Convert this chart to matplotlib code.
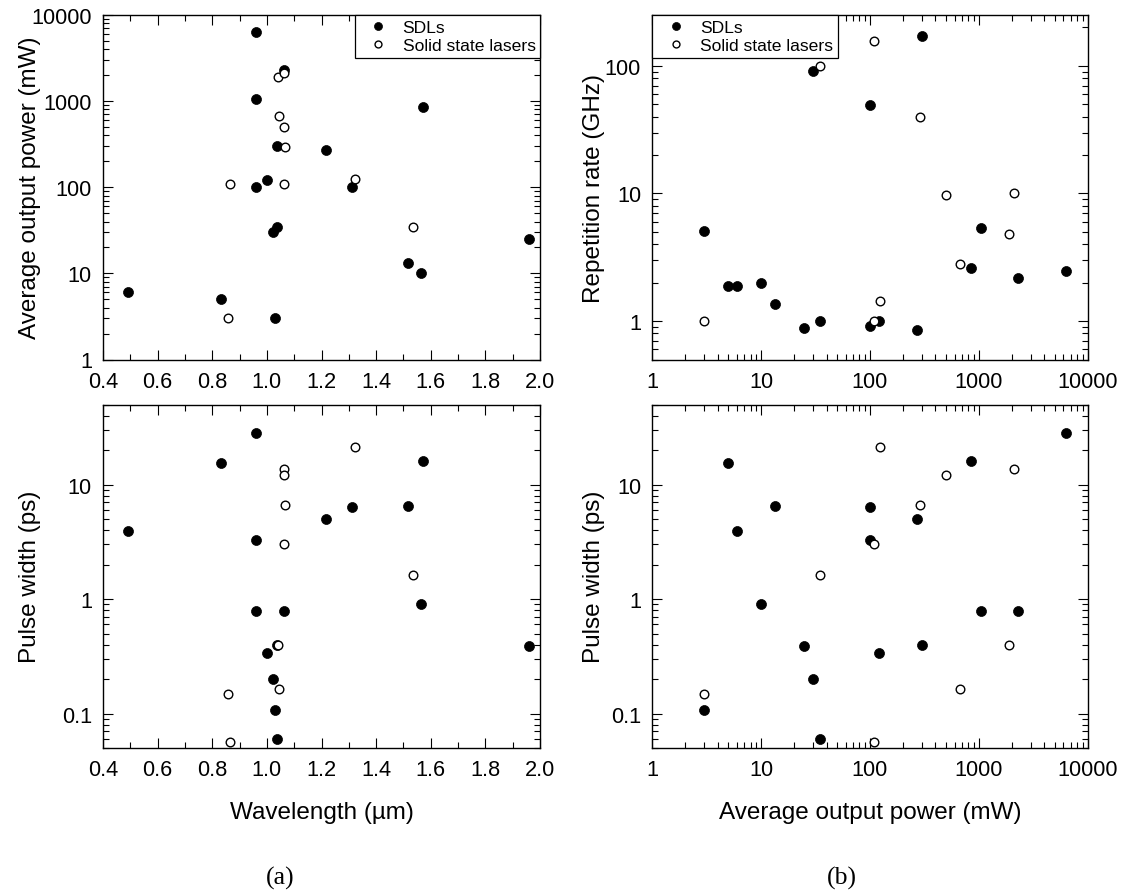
import matplotlib
matplotlib.use("Agg")
import matplotlib.pyplot as plt
from matplotlib.ticker import FixedLocator, FixedFormatter, NullFormatter, LogLocator, MultipleLocator

# ---------------- data ----------------
sdl_wavelength = [0.49, 0.833, 0.96, 0.96, 0.96, 1.00, 1.021, 1.030, 1.037, 1.036,
                  1.061, 1.217, 1.313, 1.518, 1.566, 1.57, 1.959]
sdl_power = [6, 5, 6300, 1050, 100, 120, 30, 3, 35, 300,
             2300, 270, 100, 13.3, 10, 850, 25]
sdl_reprate = [1.89, 1.89, 2.49, 5.4, 49, 1.0, 91, 5.1, 1.0, 170,
               2.18, 0.85, 0.91, 1.35, 2.0, 2.6, 0.89]
sdl_pulse = [3.9, 15.5, 28, 0.79, 3.3, 0.336, 0.2, 0.108, 0.06, 0.40,
             0.79, 5.0, 6.4, 6.5, 0.9, 16, 0.389]

ss_wavelength = [0.856, 0.865, 1.041, 1.064, 1.044, 1.063, 1.065, 1.063, 1.321, 1.535]
ss_power = [3, 110, 1900, 2100, 675, 500, 290, 110, 125, 35]
ss_reprate = [1.0, 1.0, 4.8, 10, 2.8, 9.7, 40, 155, 1.43, 100]
ss_pulse = [0.148, 0.056, 0.40, 13.8, 0.163, 12.1, 6.56, 3.02, 21.2, 1.61]

series_labels = ["SDLs", "Solid state lasers"]
wl_ticks = [0.4, 0.6, 0.8, 1.0, 1.2, 1.4, 1.6, 1.8, 2.0]
wl_ticklabels = ["0.4", "0.6", "0.8", "1.0", "1.2", "1.4", "1.6", "1.8", "2.0"]
power_ticks = [1, 10, 100, 1000, 10000]
power_ticklabels = ["1", "10", "100", "1000", "10000"]
rep_ticks = [1, 10, 100]
rep_ticklabels = ["1", "10", "100"]
pulse_ticks = [0.1, 1, 10]
pulse_ticklabels = ["0.1", "1", "10"]

# ---------------- style ----------------
plt.rcParams['font.family'] = ['Liberation Sans', 'DejaVu Sans']
plt.rcParams['mathtext.fontset'] = 'custom'
TICK_FS = 15.7
LABEL_FS = 17.5
LEG_FS = 12.6

W, H = 1122, 895
fig = plt.figure(figsize=(W / 100, H / 100), dpi=100)


def rect(l, t, r, b):
    return [l / W, 1 - b / H, (r - l) / W, (b - t) / H]


ax_tl = fig.add_axes(rect(103, 16, 540, 360.5))
ax_tr = fig.add_axes(rect(652.2, 16, 1087.6, 360.5))
ax_bl = fig.add_axes(rect(103, 405.5, 540, 749))
ax_br = fig.add_axes(rect(652.2, 405.5, 1087.6, 749))


def draw(ax, x_sdl, y_sdl, x_ss, y_ss):
    ax.plot(x_sdl, y_sdl, linestyle='none', marker='o', ms=7.2,
            mfc='black', mec='black', mew=0.5, label=series_labels[0], zorder=3)
    ax.plot(x_ss, y_ss, linestyle='none', marker='o', ms=6.2,
            mfc='white', mec='black', mew=1.0, label=series_labels[1], zorder=3)


def style(ax):
    for s in ax.spines.values():
        s.set_linewidth(1.0)
        s.set_color('black')
    ax.tick_params(which='both', direction='in', top=True, right=True,
                   labelsize=TICK_FS, pad=8, colors='black')
    ax.tick_params(which='major', length=7.5, width=0.8)
    ax.tick_params(which='minor', length=4.0, width=0.8)


def log_y(ax, ticks, labels, lim):
    ax.set_yscale('log')
    ax.set_ylim(*lim)
    ax.yaxis.set_major_locator(FixedLocator(ticks))
    ax.yaxis.set_major_formatter(FixedFormatter(labels))
    ax.yaxis.set_minor_locator(LogLocator(base=10, subs=range(2, 10), numticks=20))
    ax.yaxis.set_minor_formatter(NullFormatter())


def log_x(ax):
    ax.set_xscale('log')
    ax.set_xlim(1, 10000)
    ax.xaxis.set_major_locator(FixedLocator(power_ticks))
    ax.xaxis.set_major_formatter(FixedFormatter(power_ticklabels))
    ax.xaxis.set_minor_locator(LogLocator(base=10, subs=range(2, 10), numticks=20))
    ax.xaxis.set_minor_formatter(NullFormatter())


def lin_x(ax):
    ax.set_xlim(0.4, 2.0)
    ax.xaxis.set_major_locator(FixedLocator(wl_ticks))
    ax.xaxis.set_major_formatter(FixedFormatter(wl_ticklabels))
    ax.xaxis.set_minor_locator(MultipleLocator(0.1))


# (a) top: power vs wavelength
draw(ax_tl, sdl_wavelength, sdl_power, ss_wavelength, ss_power)
lin_x(ax_tl)
log_y(ax_tl, power_ticks, power_ticklabels, (1, 10000))
style(ax_tl)
ax_tl.set_ylabel("Average output power (mW)", fontsize=LABEL_FS)
ax_tl.yaxis.set_label_coords(-0.143, 0.5)

# (b) top: rep rate vs power
draw(ax_tr, sdl_power, sdl_reprate, ss_power, ss_reprate)
log_x(ax_tr)
log_y(ax_tr, rep_ticks, rep_ticklabels, (0.5, 250))
style(ax_tr)
ax_tr.set_ylabel("Repetition rate (GHz)", fontsize=LABEL_FS)
ax_tr.yaxis.set_label_coords(-0.108, 0.5)

# (a) bottom: pulse width vs wavelength
draw(ax_bl, sdl_wavelength, sdl_pulse, ss_wavelength, ss_pulse)
lin_x(ax_bl)
log_y(ax_bl, pulse_ticks, pulse_ticklabels, (0.05, 50))
style(ax_bl)
ax_bl.set_ylabel("Pulse width (ps)", fontsize=LABEL_FS)
ax_bl.yaxis.set_label_coords(-0.143, 0.5)
ax_bl.set_xlabel("Wavelength (\u00b5m)", fontsize=LABEL_FS)
ax_bl.xaxis.set_label_coords(0.5, -0.155)

# (b) bottom: pulse width vs power
draw(ax_br, sdl_power, sdl_pulse, ss_power, ss_pulse)
log_x(ax_br)
log_y(ax_br, pulse_ticks, pulse_ticklabels, (0.05, 50))
style(ax_br)
ax_br.set_ylabel("Pulse width (ps)", fontsize=LABEL_FS)
ax_br.yaxis.set_label_coords(-0.108, 0.5)
ax_br.set_xlabel("Average output power (mW)", fontsize=LABEL_FS)
ax_br.xaxis.set_label_coords(0.5, -0.155)

# legends
for ax, loc in ((ax_tl, 'upper right'), (ax_tr, 'upper left')):
    leg = ax.legend(loc=loc, borderaxespad=0, fontsize=LEG_FS, fancybox=False,
                    framealpha=1, edgecolor='black', borderpad=0.25,
                    handlelength=2.2, handletextpad=0.3, labelspacing=0.2,
                    markerscale=0.8)
    leg.get_frame().set_linewidth(0.9)
    leg.set_zorder(5)

# panel captions
fig.text(280.5 / W, 1 - 878 / H, "(a)", ha='center', va='center',
         fontsize=18.5, family=['Liberation Serif', 'DejaVu Serif'])
fig.text(841.5 / W, 1 - 878 / H, "(b)", ha='center', va='center',
         fontsize=18.5, family=['Liberation Serif', 'DejaVu Serif'])

fig.savefig("out.png", dpi=100, facecolor='white')
